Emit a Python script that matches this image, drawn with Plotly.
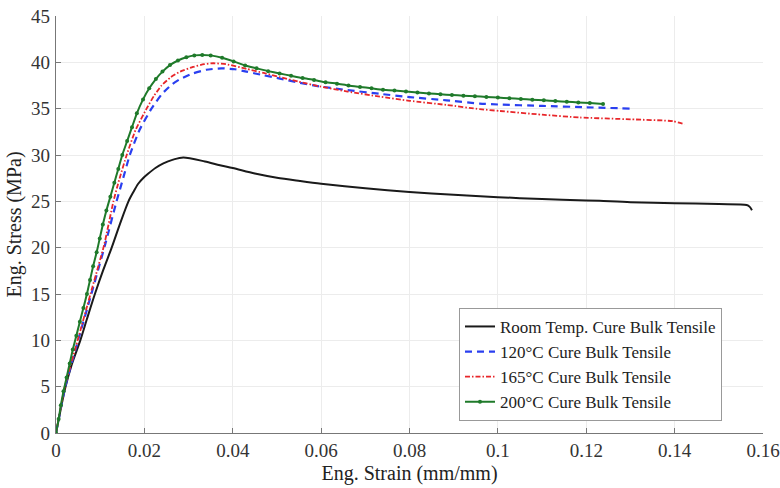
import plotly.graph_objects as go

# Engineering stress-strain curves for bulk tensile specimens at four cure temperatures

# Room temperature cure
rt_strain = [0, 0.001, 0.002, 0.0035, 0.0055, 0.007, 0.0088, 0.0107, 0.0126, 0.0145,
             0.0164, 0.0175, 0.0186, 0.0197, 0.0209, 0.0225, 0.0243, 0.0265, 0.0288,
             0.0337, 0.0371, 0.040, 0.045, 0.050, 0.0552, 0.060, 0.070, 0.080, 0.090,
             0.100, 0.110, 0.120, 0.1230, 0.130, 0.140, 0.150, 0.1563, 0.1570, 0.1575]
rt_stress = [0, 2.4, 4.7, 7.3, 10.0, 12.3, 15.0, 17.6, 20.0, 22.6,
             25.0, 26.0, 26.9, 27.5, 28.0, 28.6, 29.1, 29.5, 29.74,
             29.3, 28.9, 28.6, 28.0, 27.55, 27.2, 26.9, 26.4, 26.0, 25.7,
             25.45, 25.25, 25.1, 25.05, 24.9, 24.8, 24.7, 24.6, 24.4, 24.05]

# 120 C cure
c120_strain = [0, 0.0021, 0.0050, 0.0080, 0.0111, 0.0137, 0.0152, 0.0167, 0.0189, 0.0216,
               0.0240, 0.0262, 0.0281, 0.0310, 0.0340, 0.0375, 0.0405, 0.0431, 0.0470,
               0.0507, 0.0550, 0.0597, 0.0660, 0.0733, 0.0800, 0.0884, 0.0959, 0.1000,
               0.1100, 0.1200, 0.1306]
c120_stress = [0, 5.0, 10.0, 15.0, 20.3, 25.0, 27.5, 30.0, 32.7, 35.0,
               36.6, 37.6, 38.2, 38.8, 39.2, 39.35, 39.25, 39.0, 38.6,
               38.25, 37.8, 37.4, 37.0, 36.6, 36.25, 35.9, 35.55, 35.45,
               35.3, 35.15, 35.0]

# 165 C cure
c165_strain = [0, 0.0020, 0.0049, 0.0078, 0.0109, 0.0130, 0.0144, 0.0160, 0.0180, 0.0205,
               0.0222, 0.0239, 0.0260, 0.0281, 0.0310, 0.0335, 0.0356, 0.0385, 0.0431,
               0.0470, 0.0507, 0.0550, 0.0597, 0.0660, 0.0733, 0.0800, 0.0884, 0.0959,
               0.1005, 0.1100, 0.1186, 0.1300, 0.1396, 0.1423]
c165_stress = [0, 5.0, 10.0, 15.0, 20.3, 25.0, 27.5, 30.0, 32.7, 35.0,
               36.4, 37.5, 38.4, 39.0, 39.5, 39.8, 39.9, 39.8, 39.3,
               38.85, 38.4, 37.9, 37.4, 36.85, 36.3, 35.85, 35.4, 34.95,
               34.75, 34.35, 34.05, 33.85, 33.65, 33.3]

# 200 C cure
c200_strain = [0, 0.0006, 0.0011, 0.0017, 0.0024, 0.0031, 0.0038, 0.0046, 0.0054, 0.0062,
               0.0070, 0.0077, 0.0084, 0.0092, 0.0099, 0.0106, 0.0114, 0.0123, 0.0132,
               0.0141, 0.0150, 0.0161, 0.0172, 0.0183, 0.0197, 0.0211, 0.0226, 0.0241,
               0.0258, 0.0276, 0.0295, 0.0313, 0.0331, 0.0350, 0.0376, 0.0402, 0.0428,
               0.0454, 0.0480, 0.0506, 0.0532, 0.0558, 0.0584, 0.0610, 0.0636, 0.0662,
               0.0688, 0.0714, 0.0740, 0.0766, 0.0792, 0.0818, 0.0844, 0.0870, 0.0896,
               0.0922, 0.0948, 0.0974, 0.1000, 0.1026, 0.1052, 0.1078, 0.1104, 0.1130,
               0.1156, 0.1182, 0.1208, 0.1238]
c200_stress = [0, 1.5, 3.0, 4.5, 6.0, 7.5, 9.0, 10.5, 12.0, 13.5,
               15.0, 16.5, 18.0, 19.5, 21.0, 22.5, 24.0, 25.5, 27.0,
               28.5, 30.0, 31.5, 33.0, 34.5, 36.0, 37.2, 38.2, 39.0,
               39.7, 40.2, 40.55, 40.75, 40.8, 40.75, 40.5, 40.1, 39.65,
               39.35, 39.05, 38.8, 38.55, 38.3, 38.1, 37.85, 37.7, 37.5,
               37.35, 37.2, 37.05, 36.95, 36.85, 36.75, 36.65, 36.55, 36.47,
               36.4, 36.33, 36.27, 36.2, 36.12, 36.05, 35.97, 35.9, 35.82,
               35.75, 35.67, 35.6, 35.5]

x_ticks = [0, 0.02, 0.04, 0.06, 0.08, 0.1, 0.12, 0.14, 0.16]
x_tick_text = ["0", "0.02", "0.04", "0.06", "0.08", "0.1", "0.12", "0.14", "0.16"]
y_ticks = [0, 5, 10, 15, 20, 25, 30, 35, 40, 45]

names = ["Room Temp. Cure Bulk Tensile", "120°C Cure Bulk Tensile",
         "165°C Cure Bulk Tensile", "200°C Cure Bulk Tensile"]

SERIF = "Liberation Serif"

fig = go.Figure()
fig.add_trace(go.Scatter(x=rt_strain, y=rt_stress, name=names[0], mode="lines",
                         line=dict(color="#1a1a1a", width=2, shape="spline", smoothing=0.8)))
fig.add_trace(go.Scatter(x=c120_strain, y=c120_stress, name=names[1], mode="lines",
                         line=dict(color="#2a3ff0", width=2.2, dash="7px,5px",
                                   shape="spline", smoothing=0.5)))
fig.add_trace(go.Scatter(x=c165_strain, y=c165_stress, name=names[2], mode="lines",
                         line=dict(color="#e8262a", width=1.8, dash="5px,2px,1.5px,2px",
                                   shape="spline", smoothing=0.5)))
fig.add_trace(go.Scatter(x=c200_strain, y=c200_stress, name=names[3], mode="lines+markers",
                         line=dict(color="#1f7a2a", width=2, shape="spline", smoothing=0.5),
                         marker=dict(color="#1f7a2a", size=4)))

axis_common = dict(
    showgrid=True, gridcolor="#ececec", gridwidth=1,
    showline=True, linecolor="#777777", linewidth=1.2,
    ticks="inside", ticklen=5, tickcolor="#777777",
    zeroline=False, automargin=False,
    tickfont=dict(family=SERIF, size=19, color="#333333"),
    title_font=dict(family=SERIF, size=20, color="#222222"),
)

fig.update_xaxes(range=[0, 0.16], tickvals=x_ticks, ticktext=x_tick_text,
                 ticklabelstandoff=0,
                 title_text="Eng. Strain (mm/mm)", title_standoff=6, **axis_common)
fig.update_yaxes(range=[0, 45], tickvals=y_ticks, ticklabelstandoff=1,
                 title_text="Eng. Stress (MPa)", title_standoff=4, **axis_common)

fig.update_layout(
    width=780, height=488,
    margin=dict(l=56, r=17, t=16, b=55),
    paper_bgcolor="white", plot_bgcolor="white",
    showlegend=True,
    legend=dict(x=0.942, y=0.30, xanchor="right", yanchor="top",
                bgcolor="white", bordercolor="#999999", borderwidth=1,
                font=dict(family=SERIF, size=17, color="#222222"),
                itemwidth=30, tracegroupgap=0),
)

fig.write_html("out.html")
